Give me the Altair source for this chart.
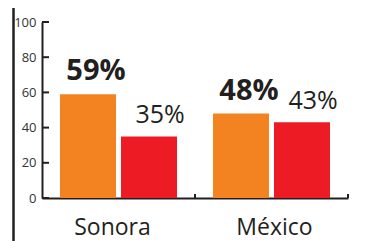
import altair as alt
import pandas as pd

groups = ["Sonora", "Sonora", "México", "México"]
series = ["A", "B", "A", "B"]
values = [59, 35, 48, 43]
yticks = [0, 20, 40, 60, 80, 100]
group_order = ["Sonora", "México"]
colors = ["#F38321", "#ED1C24"]

df = pd.DataFrame({"group": groups, "series": series, "value": values})
df["label"] = df["value"].astype(str) + "%"

ink = "#231F20"
font = "Open Sans"

xscale = alt.Scale(paddingInner=0, paddingOuter=0)
yscale = alt.Scale(domain=[0, 100], nice=False)

def X(**kw):
    return alt.X("group:N", sort=group_order, scale=xscale, title=None, **kw)

def Y(field):
    return alt.Y(field, scale=yscale, title=None)

xoff = alt.XOffset("series:N", scale=alt.Scale(paddingInner=0.082, paddingOuter=0.295))

base = alt.Chart(df)

bars = base.mark_bar().encode(
    x=X(), y=Y("value:Q"), xOffset=xoff,
    color=alt.Color("series:N", scale=alt.Scale(domain=["A", "B"], range=colors), legend=None),
)

bold = base.transform_filter("datum.series === 'A'").mark_text(
    font=font, fontSize=29, fontWeight="bold", color=ink, baseline="alphabetic",
    align="center", dy=-14, dx=8
).encode(x=X(), y=Y("value:Q"), xOffset=xoff, text="label:N")

normal = base.transform_filter("datum.series === 'B'").mark_text(
    font=font, fontSize=25, color=ink, baseline="alphabetic",
    align="center", dy=-13, dx=11
).encode(x=X(), y=Y("value:Q"), xOffset=xoff, text="label:N")

# inward y-axis ticks, derived from the same data source
yt = base.transform_filter(
    "datum.series === 'A' && datum.group === 'Sonora'"
).transform_calculate(t=str(yticks)).transform_flatten(["t"]).mark_rule(
    stroke=ink, strokeWidth=2
).encode(y=Y("t:Q"), x=alt.value(0), x2=alt.value(7))

# upward x-axis ticks at the right edge of each group band
xt = base.transform_filter("datum.series === 'A'").mark_rule(
    stroke=ink, strokeWidth=2
).encode(x=X(bandPosition=1), y=alt.value(172), y2=alt.value(176))

frame = base.transform_filter(
    "datum.series === 'A' && datum.group === 'Sonora'"
).mark_rule(stroke=ink, strokeWidth=2.5).encode(
    x=alt.value(-28.5), y=alt.value(-14), y2=alt.value(225))

chart = alt.layer(bars, bold, normal, yt, xt, frame).properties(
    width=306, height=176,
    autosize=alt.AutoSizeParams(type="none"),
    padding={"left": 34, "top": 14, "right": 15, "bottom": 43},
).configure_view(stroke=None).configure_axisY(
    values=yticks, grid=False, tickSize=0, ticks=False, labelPadding=6,
    labelFontSize=13, labelFont=font, labelColor="#333333",
    labelOverlap=False, labelBound=False, labelFlush=False,
    domainColor=ink, domainWidth=2,
).configure_axisX(
    labelAngle=0, labelFontSize=23, labelFont=font,
    labelColor=ink, domainColor=ink, domainWidth=2, ticks=False, grid=False,
    labelPadding=18, labelBound=False, labelOverlap=False,
    labelOffset={"condition": {"test": "datum.value === 'Sonora'", "value": -6}, "value": 3},
)

chart.save("out.html", embed_options={"renderer": "svg", "actions": False})
